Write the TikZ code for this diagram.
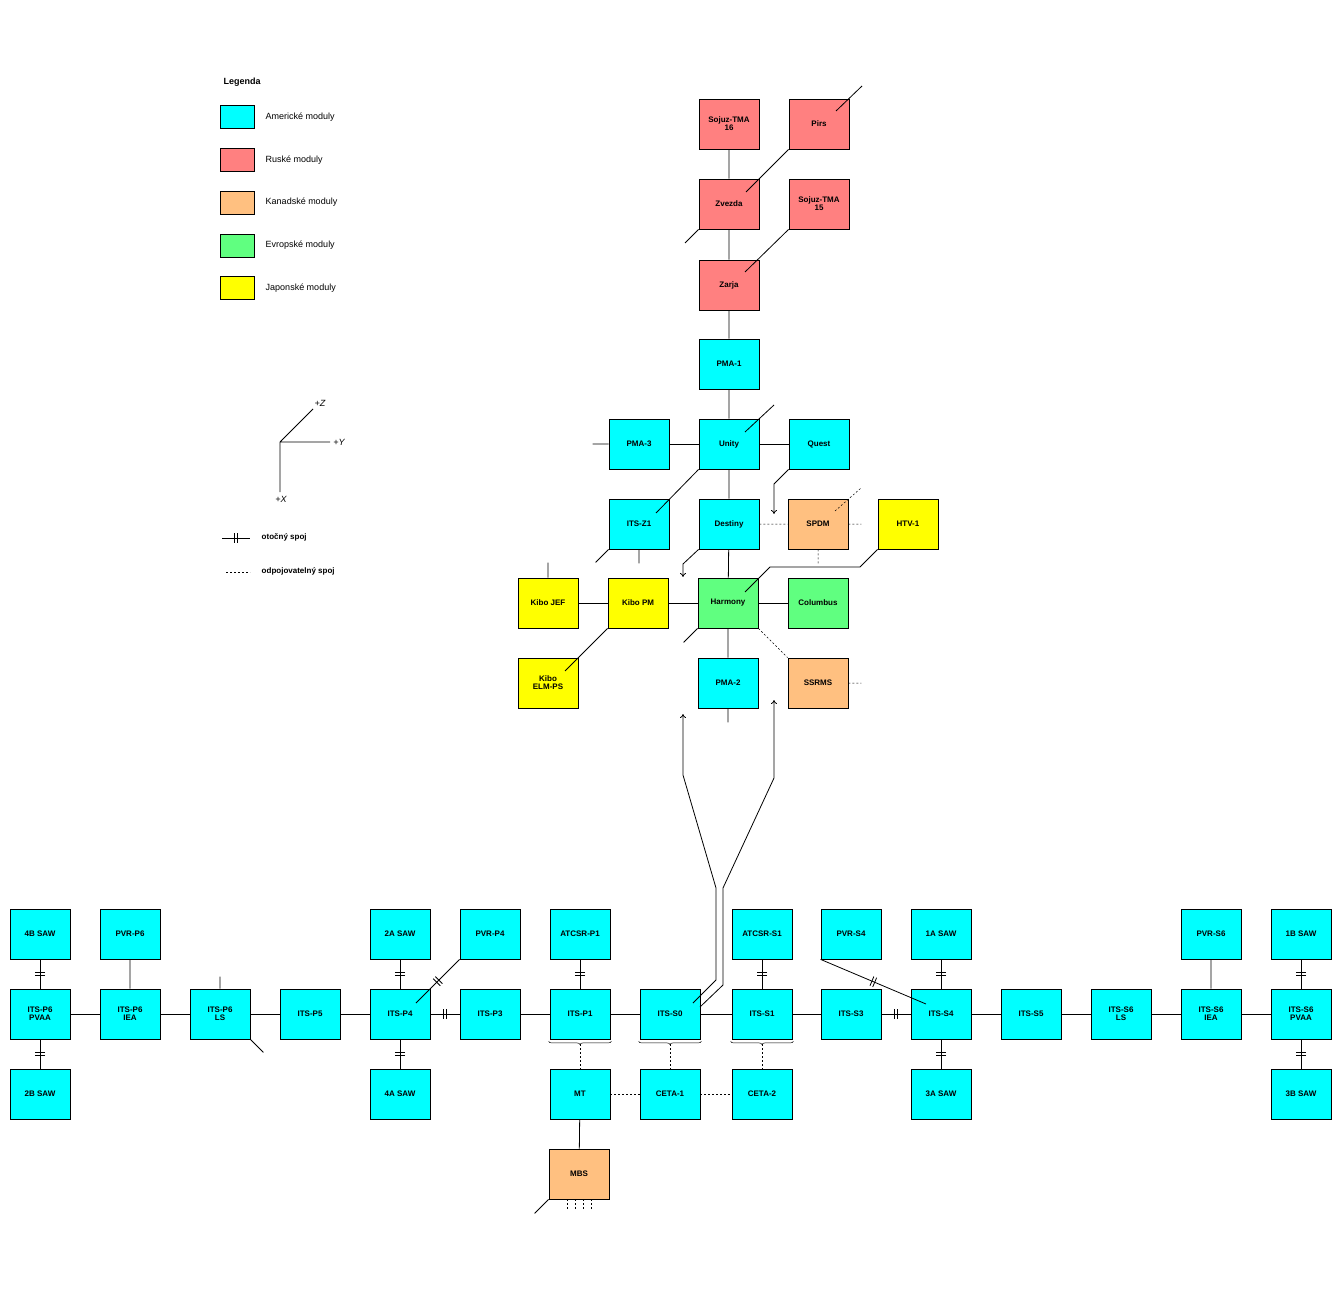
\documentclass[tikz,border=0pt]{standalone}
\usepackage{fontspec}
\setmainfont{Liberation Sans}
\usetikzlibrary{decorations.markings,calc,arrows.meta,decorations.pathreplacing}
\definecolor{usa}{HTML}{00FFFF}
\definecolor{rus}{HTML}{FF8080}
\definecolor{can}{HTML}{FFC080}
\definecolor{eur}{HTML}{60FF80}
\definecolor{jap}{HTML}{FFFF00}
\begin{document}
\begin{tikzpicture}[x=1pt,y=-1pt,line width=0.8pt,
	mod/.style={draw,minimum width=60pt,minimum height=50pt,inner sep=0pt,align=center,font=\fontsize{8}{8}\selectfont\bfseries},
	us/.style={mod,fill=usa},ru/.style={mod,fill=rus},ca/.style={mod,fill=can},eu/.style={mod,fill=eur},jp/.style={mod,fill=jap},
	swatch/.style={draw,minimum width=34pt,minimum height=23pt,inner sep=0pt},
	ltext/.style={anchor=west,font=\fontsize{9}{9}\selectfont},
	rot/.style={postaction={decorate,decoration={markings,mark=at position .5 with {\draw (-1.5,-5)--(-1.5,5) (1.5,-5)--(1.5,5);}}}},
	dis/.style={dash pattern=on 2pt off 2pt},
	arr/.style={-{To[length=4pt,width=6pt]}}]
\useasboundingbox (0,0) rectangle (1341,1300);
% legend
\node[anchor=west,font=\fontsize{9}{9}\selectfont\bfseries] (leg) at (220,82) {Legenda};
\foreach \c/\t [count=\i] in {usa/Americké moduly,rus/Ruské moduly,can/Kanadské moduly,eur/Evropské moduly,jap/Japonské moduly}{
	\node[swatch,fill=\c] (sw\i) at (237,{117+42.8*(\i-1)}) {};
	\node[ltext] (lt\i) at (262,{117+42.8*(\i-1)}) {\t};
}
% axes
\coordinate (o) at (280,442);
\node[font=\fontsize{9}{9}\selectfont\itshape,inner sep=1pt] (ay) at (339,442) {+Y};
\node[font=\fontsize{9}{9}\selectfont\itshape,inner sep=1pt] (az) at (320,403) {+Z};
\node[font=\fontsize{9}{9}\selectfont\itshape,inner sep=1pt] (ax) at (281,499) {+X};
\draw (o) -- (330,442) (o) -- (313,409) (o) -- (280,492);
\coordinate (r1) at (222,538); \coordinate (r2) at (250,538);
\draw[rot] (r1) -- (r2);
\node[ltext,font=\fontsize{8}{8}\selectfont\bfseries] (rt) at (258,537) {otočný spoj};
\coordinate (d1) at (226,572); \coordinate (d2) at (250,572);
\draw[dis,line width=0.5pt] (d1) -- (d2);
\node[ltext,font=\fontsize{8}{8}\selectfont\bfseries] (dt) at (258,571) {odpojovatelný spoj};
% upper modules
\node[ru] (s16) at (729,124) {Sojuz-TMA\\16};
\node[ru] (pirs) at (819,124) {Pirs};
\node[ru] (zvezda) at (729,204) {Zvezda};
\node[ru] (s15) at (819,204) {Sojuz-TMA\\15};
\node[ru] (zarja) at (729,285) {Zarja};
\node[us] (pma1) at (729,364) {PMA-1};
\node[us] (pma3) at (639,444) {PMA-3};
\node[us] (unity) at (729,444) {Unity};
\node[us] (quest) at (819,444) {Quest};
\node[us] (z1) at (639,524) {ITS-Z1};
\node[us] (destiny) at (729,524) {Destiny};
\node[ca] (spdm) at (818,524) {SPDM};
\node[jp] (htv) at (908,524) {HTV-1};
\node[jp] (jef) at (548,603) {Kibo JEF};
\node[jp] (kpm) at (638,603) {Kibo PM};
\node[eu] (harmony) at (728,603) {Harmony};
\node[eu] (columbus) at (818,603) {Columbus};
\node[jp] (elm) at (548,683) {Kibo\\ELM-PS};
\node[us] (pma2) at (728,683) {PMA-2};
\node[ca] (ssrms) at (818,683) {SSRMS};
\draw (s16) -- (zvezda) (zvezda) -- (zarja) (zarja) -- (pma1) (pma1) -- (unity) (unity) -- (destiny) (destiny) -- (harmony) (harmony) -- (pma2);
\draw (pma3) -- (unity) (unity) -- (quest) (jef) -- (kpm) (kpm) -- (harmony) (harmony) -- (columbus);
\draw (862,86) -- (836,111) (pirs.south west) -- (746,192) (zvezda.south west) -- (685,243);
\draw (s15.south west) -- (745,272);
\draw (745,432) -- (774,405) (unity.south west) -- (656,513);
\draw (pma3.west) -- ++(-16,0) (z1.south west) -- ++(-13,13) (z1.south) -- ++(0,14);
\draw (jef.north) -- ++(0,-15) (kpm.south west) -- (565,671) (harmony.south west) -- ++(-14,14) (pma2.south) -- ++(0,14);
\draw[arr] (quest.south west) -- (774,484) -- (774,514);
\draw[arr] (destiny.south west) -- (683,564) -- (683,577);
\draw (htv.south west) -- (860,567) -- (770,567) -- (745,592);
\draw[dis,line width=0.5pt] (destiny) -- (spdm) (spdm.east) -- ++(13,0) (spdm.south) -- ++(0,15) (835,511) -- (861,488)
	(harmony.south east) -- (ssrms.north west) (ssrms.east) -- ++(13,0);
% truss
\foreach \n/\x/\t in {p6pvaa/40/ITS-P6\\PVAA,p6iea/130/ITS-P6\\IEA,p6ls/220/ITS-P6\\LS,p5/310/ITS-P5,p4/400/ITS-P4,p3/490/ITS-P3,p1/580/ITS-P1,s0/670/ITS-S0,s1/762/ITS-S1,s3/851/ITS-S3,s4/941/ITS-S4,s5/1031/ITS-S5,s6ls/1121/ITS-S6\\LS,s6iea/1211/ITS-S6\\IEA,s6pvaa/1301/ITS-S6\\PVAA}
	\node[us] (\n) at (\x,1014) {\t};
\foreach \n/\x/\t in {sb4/40/4B SAW,pvrp6/130/PVR-P6,sa2/400/2A SAW,pvrp4/490/PVR-P4,atp1/580/ATCSR-P1,ats1/762/ATCSR-S1,pvrs4/851/PVR-S4,sa1/941/1A SAW,pvrs6/1211/PVR-S6,sb1/1301/1B SAW}
	\node[us] (\n) at (\x,934) {\t};
\foreach \n/\x/\t in {sb2/40/2B SAW,sa4/400/4A SAW,mt/580/MT,ceta1/670/CETA-1,ceta2/762/CETA-2,sa3/941/3A SAW,sb3/1301/3B SAW}
	\node[us] (\n) at (\x,1094) {\t};
\node[ca] (mbs) at (579,1174) {MBS};
\draw (p6pvaa) -- (p6iea) (p6iea) -- (p6ls) (p6ls) -- (p5) (p5) -- (p4) (p3) -- (p1) (p1) -- (s0) (s0) -- (s1) (s1) -- (s3) (s4) -- (s5) (s5) -- (s6ls) (s6ls) -- (s6iea) (s6iea) -- (s6pvaa);
\draw[rot] (p4) -- (p3);
\draw[rot] (s3) -- (s4);
\foreach \a/\b in {sb4/p6pvaa,p6pvaa/sb2,sa2/p4,p4/sa4,atp1/p1,ats1/s1,sa1/s4,s4/sa3,sb1/s6pvaa,s6pvaa/sb3}
	\draw[rot] (\a) -- (\b);
\draw (pvrp6) -- (p6iea) (pvrs6) -- (s6iea) (mt) -- (mbs);
\draw[rot] (pvrp4.south west) -- (416,1003);
\draw[rot] (pvrs4.south west) -- (926,1004);
\draw (p6ls.north) -- ++(0,-12) (p6ls.south east) -- ++(13,13) (mbs.south west) -- ++(-14,14);
\foreach \x in {567,575,583,591} \draw[dis,line width=0.5pt] (\x,1199) -- (\x,1209);
\foreach \n/\m in {p1/mt,s0/ceta1,s1/ceta2}{
	\draw[decorate,decoration={brace,mirror,amplitude=3pt},line width=0.5pt] ($(\n.south west)+(-1,2)$) -- ($(\n.south east)+(1,2)$);
	\draw[dis,line width=0.5pt] ($(\n.south)+(0,5)$) -- (\m.north);
}
\draw[dis,line width=0.5pt] (mt) -- (ceta1) (ceta1) -- (ceta2);
\draw[arr] (693,1003) -- (716,980) -- (716,888) -- (683,775) -- (683,714);
\draw[arr] (700,1007) -- (723,985) -- (723,888) -- (774,778) -- (774,700);
\end{tikzpicture}
\end{document}
